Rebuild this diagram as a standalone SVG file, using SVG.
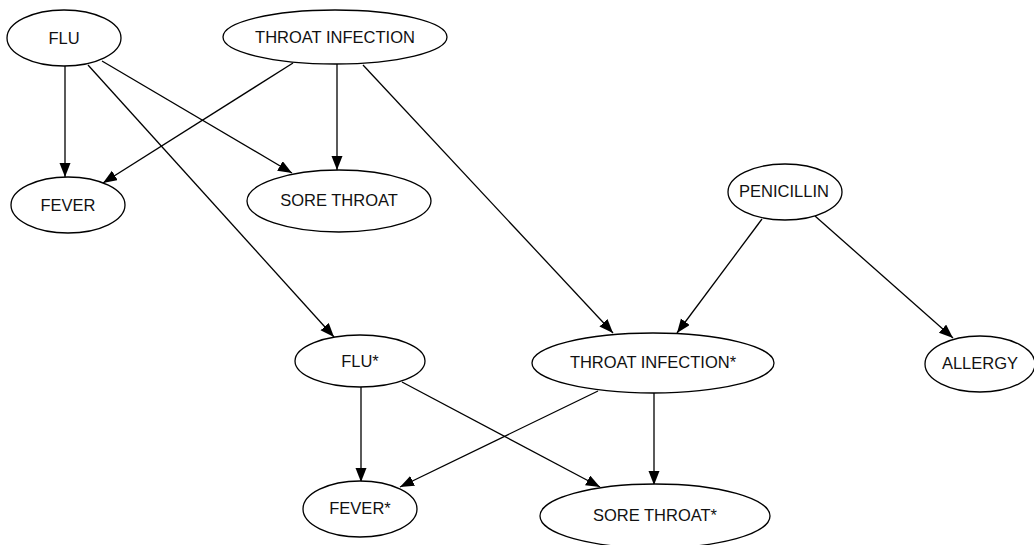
<svg xmlns="http://www.w3.org/2000/svg" width="1034" height="545" viewBox="0 0 1034 545">
  <style>
    .node ellipse { fill: #ffffff; stroke: #000000; stroke-width: 1.3; }
    .node text { font-family: "Liberation Sans", Arial, sans-serif; font-size: 16.5px; fill: #111111; text-anchor: middle; dominant-baseline: central; }
    .edges line { stroke: #000000; stroke-width: 1.3; marker-end: url(#arrow); }
  </style>
  <defs>
    <marker id="arrow" markerUnits="userSpaceOnUse" markerWidth="15" markerHeight="12" refX="14" refY="5.5" orient="auto">
      <path d="M0,0 L14,5.5 L0,11 z" fill="#000000"/>
    </marker>
  </defs>
  <rect width="1034" height="545" fill="#ffffff"/>

  <!-- connectors -->
  <g class="edges">
    <line x1="65" y1="66" x2="65" y2="177"/>
    <line x1="102" y1="61" x2="292" y2="173"/>
    <line x1="88" y1="65" x2="334" y2="337"/>
    <line x1="293" y1="63" x2="103" y2="183"/>
    <line x1="337" y1="64" x2="337" y2="170"/>
    <line x1="363" y1="65" x2="613" y2="333"/>
    <line x1="762" y1="219" x2="677" y2="333"/>
    <line x1="815" y1="216" x2="953" y2="338"/>
    <line x1="361" y1="387" x2="361" y2="482"/>
    <line x1="402" y1="382" x2="600" y2="487"/>
    <line x1="598" y1="391" x2="400" y2="487"/>
    <line x1="654" y1="393" x2="654" y2="485"/>
  </g>

  <!-- nodes -->
  <g id="flu" class="node">
    <ellipse cx="64" cy="38" rx="57" ry="28"/>
    <text x="64" y="38">FLU</text>
  </g>
  <g id="throat-infection" class="node">
    <ellipse cx="335" cy="37" rx="112" ry="27"/>
    <text x="335" y="37">THROAT INFECTION</text>
  </g>
  <g id="fever" class="node">
    <ellipse cx="68" cy="205" rx="57" ry="28"/>
    <text x="68" y="205">FEVER</text>
  </g>
  <g id="sore-throat" class="node">
    <ellipse cx="339" cy="201" rx="92" ry="31"/>
    <text x="339" y="200">SORE THROAT</text>
  </g>
  <g id="penicillin" class="node">
    <ellipse cx="785" cy="192" rx="57" ry="28"/>
    <text x="784" y="191">PENICILLIN</text>
  </g>
  <g id="flu-star" class="node">
    <ellipse cx="360" cy="361" rx="65" ry="26"/>
    <text x="360" y="361">FLU*</text>
  </g>
  <g id="throat-infection-star" class="node">
    <ellipse cx="653" cy="363" rx="121" ry="30"/>
    <text x="653" y="362">THROAT INFECTION*</text>
  </g>
  <g id="allergy" class="node">
    <ellipse cx="980" cy="364" rx="55" ry="28"/>
    <text x="980" y="363">ALLERGY</text>
  </g>
  <g id="fever-star" class="node">
    <ellipse cx="360" cy="509" rx="57" ry="28"/>
    <text x="360" y="508">FEVER*</text>
  </g>
  <g id="sore-throat-star" class="node">
    <ellipse cx="655" cy="516" rx="115" ry="32"/>
    <text x="655" y="515">SORE THROAT*</text>
  </g>
</svg>
